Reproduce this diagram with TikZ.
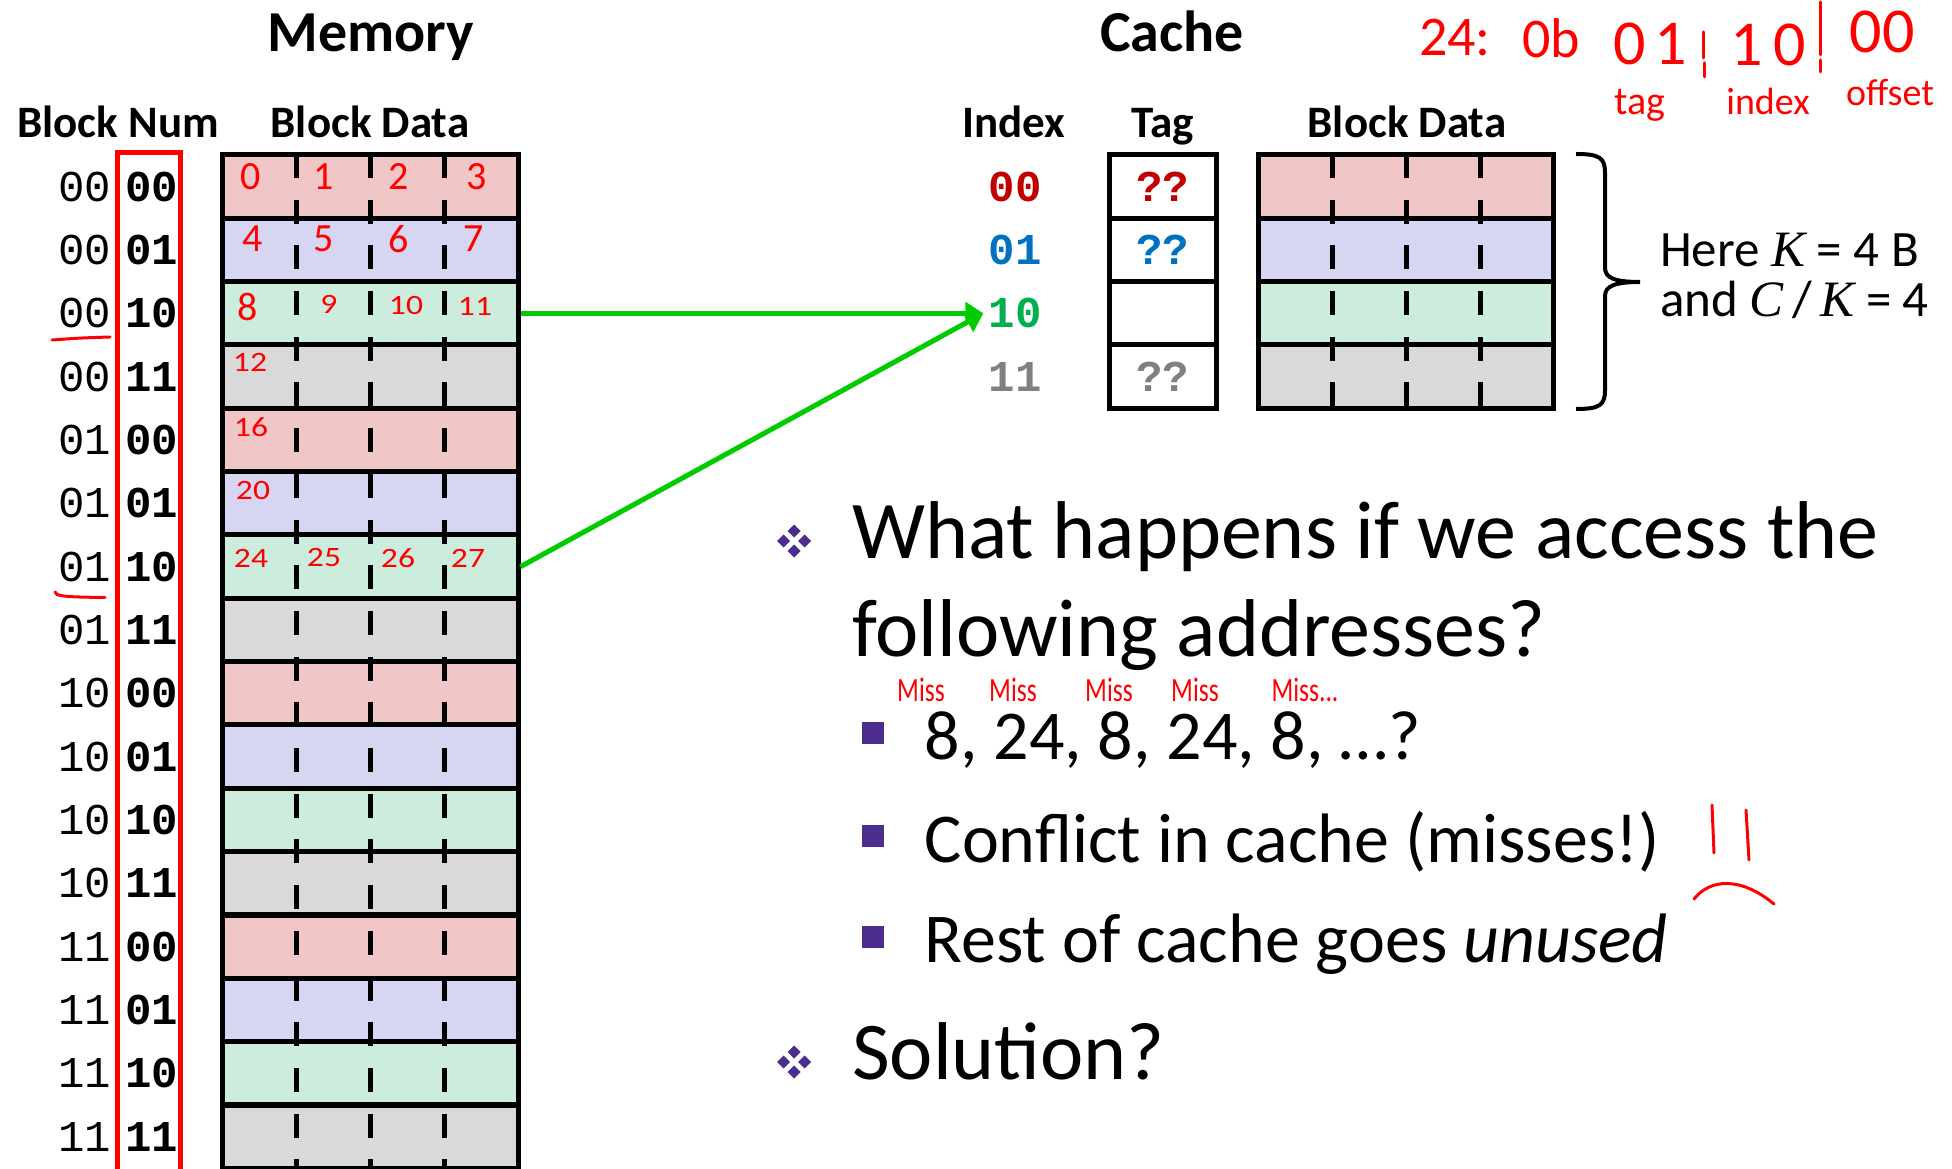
\documentclass[tikz,border=0pt]{standalone}
\usepackage{fontspec}
\setmainfont{Carlito}
\newfontfamily\blockmono{Liberation Mono}
\newfontfamily\serifit{Liberation Serif}
\usetikzlibrary{arrows.meta}

\definecolor{rowc0}{RGB}{241,198,198}
\definecolor{rowc1}{RGB}{214,214,242}
\definecolor{rowc2}{RGB}{204,236,221}
\definecolor{rowc3}{RGB}{217,217,217}
\definecolor{idxc0}{RGB}{192,0,0}
\definecolor{idxc1}{RGB}{0,112,192}
\definecolor{idxc2}{RGB}{0,176,80}
\definecolor{idxc3}{RGB}{128,128,128}
\definecolor{bulletColor}{RGB}{76,44,140}
\definecolor{inkRed}{RGB}{255,0,0}
\definecolor{arrowGreen}{RGB}{0,204,0}

% four small diamonds round a centre
\newcommand{\diamondbullet}[2]{%
  \foreach \dx/\dy in {0/10,-10.5/0,10.5/0,0/-10}
    \fill[bulletColor] (#1+\dx,#2+\dy) +(0,6.5) -- +(6.5,0) -- +(0,-6.5) -- +(-6.5,0) -- cycle;}

\begin{document}
\begin{tikzpicture}[x=1pt,y=1pt,
  memrow/.style={draw=black,line width=5pt,inner sep=0pt,outer sep=2.5pt,
    minimum width=296pt,minimum height=63.33pt},
  tagbox/.style={memrow,fill=white,minimum width=107pt},
  cacherow/.style={memrow,minimum width=295pt},
  divider/.style={draw=black,line width=5pt,dash pattern=on 24pt off 21.7pt},
  title/.style={anchor=base,inner sep=0pt,font=\fontsize{58}{60}\selectfont\bfseries},
  header/.style={anchor=base,inner sep=0pt,font=\fontsize{45}{50}\selectfont\bfseries},
  hibits/.style={inner sep=0pt,font=\fontsize{44}{50}\selectfont\blockmono},
  lobits/.style={inner sep=0pt,font=\fontsize{44}{50}\selectfont\blockmono\bfseries},
  ink/.style={text=inkRed,inner sep=0pt,font=\fontsize{40}{42}\selectfont},
  inksmall/.style={ink,font=\fontsize{28}{30}\selectfont},
  inkline/.style={draw=inkRed,line width=3pt,line cap=round,line join=round},
  hit/.style={draw=arrowGreen,line width=5pt,-{Triangle[length=18pt,width=22pt]}},
  bigtext/.style={anchor=base west,inner sep=0pt,font=\fontsize{82}{97}\selectfont},
  subtext/.style={anchor=base west,inner sep=0pt,font=\fontsize{70}{80}\selectfont},
  subbullet/.style={fill=bulletColor,minimum size=22pt,inner sep=0pt}]
\path[use as bounding box,clip] (0,0) rectangle (1952,1168);

% titles
\node[title] (memtitle) at ( 371,1116) {Memory};
\node[title] (cachetitle) at (1172,1116) {Cache};
\node[header] (numhead) at ( 118,1030) {Block Num};
\node[header] (memdatahead) at ( 370,1030) {Block Data};
\node[header] (idxhead) at (1014,1030) {Index};
\node[header] (taghead) at (1163,1030) {Tag};
\node[header] (cachedatahead) at (1407,1030) {Block Data};

% memory blocks
\foreach \i/\hi/\lo in {0/00/00,1/00/01,2/00/10,3/00/11,4/01/00,5/01/01,6/01/10,7/01/11,
    8/10/00,9/10/01,10/10/10,11/10/11,12/11/00,13/11/01,14/11/10,15/11/11}{
  \pgfmathtruncatemacro{\k}{mod(\i,4)}
  \pgfmathsetmacro{\yc}{981.33-63.333*\i}
  \node[memrow,fill=rowc\k] (m\i) at (370,\yc) {};
  \node[hibits] (hi\i) at ( 85,\yc) {\hi};
  \node[lobits] (lo\i) at (152,\yc) {\lo};
}
\foreach \x in {296,370,444}
  \draw[divider] (\x,1014) -- (\x,0);
\draw[draw=inkRed,line width=5pt] (117.5,1015) rectangle (180,-10);

% cache lines
\foreach \i/\tg in {0/??,1/??,2/{},3/??}{
  \pgfmathsetmacro{\yc}{981.33-63.333*\i}
  \node[lobits,text=idxc\i] (i\i) at (1015,\yc) {\ifnum\i=0 00\fi\ifnum\i=1 01\fi\ifnum\i=2 10\fi\ifnum\i=3 11\fi};
  \node[tagbox,text=idxc\i,font=\fontsize{44}{50}\selectfont\blockmono\bfseries] (t\i) at (1162.5,\yc) {\tg};
  \node[cacherow,fill=rowc\i] (c\i) at (1405.5,\yc) {};
}
\foreach \x in {1332,1406,1480}
  \draw[divider] (\x,1014) -- (\x,759);

% brace and sizes
\draw[line width=4pt] (1576,1014) .. controls (1600,1014) and (1605,1010) .. (1605,995)
  -- (1605,900) .. controls (1605,890) and (1615,886) .. (1640,886)
  .. controls (1615,886) and (1605,882) .. (1605,872)
  -- (1605,778) .. controls (1605,763) and (1600,759) .. (1576,759);
\node[anchor=base west,inner sep=0pt,font=\fontsize{51}{56}\selectfont] (sizeK) at (1660,901)
  {Here {\serifit\itshape K} = 4 B};
\node[anchor=base west,inner sep=0pt,font=\fontsize{51}{56}\selectfont] (sizeCK) at (1660,851)
  {and {\serifit\itshape C}\,/\,{\serifit\itshape K} = 4};

% mapping of blocks 2 and 6
\draw[hit] (m2.east) -- ([xshift=-5pt]i2.west);
\draw[hit] (m6.east) -- ([xshift=-5pt]i2.west);

% questions
\diamondbullet{794}{627}
\node[bigtext] (q1) at (852,609) {What happens if we access the};
\node[bigtext] (q2) at (852,511) {following addresses?};
\node[subbullet] (b1) at (873,434.5) {};
\node[subtext] (s1) at (924.5,408) {8, 24, 8, 24, 8, …?};
\node[subbullet] (b2) at (873,332) {};
\node[subtext] (s2) at (924.5,305) {Conflict in cache (misses!)};
\node[subbullet] (b3) at (873,230.5) {};
\node[subtext] (s3) at (924.5,205) {Rest of cache goes \textit{unused}};
\diamondbullet{794}{106}
\node[bigtext] (q3) at (852,89) {Solution?};

% handwritten notes
\foreach \lab/\x/\y in {0/251/991,1/324/991,2/399/991,3/477/991,
    4/253/929,5/324/929,6/399/929,7/474/929,8/248/861}
  \node[ink] at (\x,\y) {\lab};
\foreach \lab/\x/\y in {9/329/864,10/406/862,11/475/862,12/250/806,16/251/741,
    20/253/677,24/251/610,25/324/610,26/398/610,27/468/610}
  \node[inksmall,xscale=1.2] at (\x,\y) {\lab};
\draw[inkline] (52,828) .. controls (80,830) .. (110,831);
\draw[inkline] (55,576) .. controls (56,572) and (62,571) .. (105,570.5);
\foreach \j/\x in {1/921,2/1013,3/1109,4/1195}
  \node[ink,xscale=0.75,font=\fontsize{34}{36}\selectfont] (miss\j) at (\x,478) {Miss};
\node[ink,xscale=0.75,font=\fontsize{34}{36}\selectfont] (miss5) at (1305,478) {Miss...};
\node[ink,font=\fontsize{56}{58}\selectfont] (addr) at (1455,1130) {24:};
\node[ink,font=\fontsize{56}{58}\selectfont] (prefix) at (1551,1130) {0b};
\node[ink,font=\fontsize{64}{66}\selectfont] (tagbits) at (1650,1124) {0\hspace{8pt}1};
\node[ink,font=\fontsize{64}{66}\selectfont] (idxbits) at (1768,1123) {1\hspace{10pt}0};
\node[ink,font=\fontsize{64}{66}\selectfont] (offbits) at (1882,1136) {00};
\draw[inkline] (1703,1136) -- (1703,1110);
\draw[inkline] (1704,1105) -- (1704,1091);
\draw[inkline] (1820,1166) -- (1820,1113);
\draw[inkline] (1820,1108) -- (1820,1096);
\node[ink,font=\fontsize{40}{42}\selectfont] (tagnote) at (1640,1063) {tag};
\node[ink,font=\fontsize{38}{40}\selectfont] (idxnote) at (1768,1067) {index};
\node[ink,font=\fontsize{38}{40}\selectfont] (offnote) at (1890,1075) {offset};
\draw[inkline] (1712,363) -- (1714,315);
\draw[inkline] (1746,358) -- (1749,308);
\draw[inkline] (1694,269) .. controls (1710,289) and (1740,292) .. (1774,264);
\end{tikzpicture}
\end{document}
